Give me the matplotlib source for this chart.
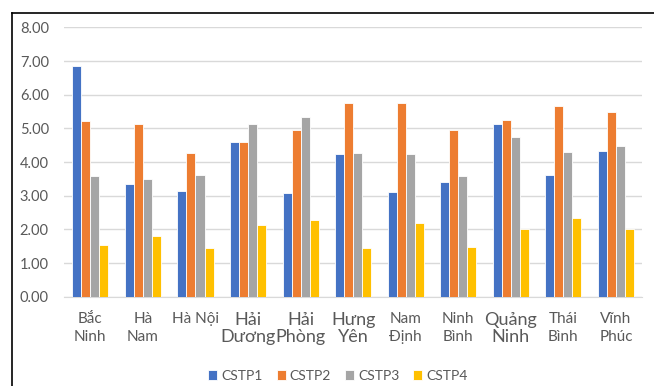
import matplotlib.pyplot as plt
import numpy as np
from matplotlib.lines import Line2D

plt.rcParams['font.family'] = ['Lato', 'DejaVu Sans']

provinces = ['Bắc\nNinh', 'Hà\nNam', 'Hà Nội', 'Hải\nDương', 'Hải\nPhòng', 'Hưng\nYên',
             'Nam\nĐịnh', 'Ninh\nBình', 'Quảng\nNinh', 'Thái\nBình', 'Vĩnh\nPhúc']
label_sizes = [11, 11, 11, 13, 13, 13, 11, 11, 13, 11, 11]

cstp1 = [6.85, 3.35, 3.14, 4.60, 3.07, 4.24, 3.11, 3.40, 5.12, 3.61, 4.33]
cstp2 = [5.21, 5.12, 4.27, 4.60, 4.96, 5.77, 5.77, 4.94, 5.26, 5.66, 5.50]
cstp3 = [3.58, 3.51, 3.63, 5.14, 5.34, 4.26, 4.24, 3.58, 4.74, 4.29, 4.48]
cstp4 = [1.55, 1.82, 1.45, 2.12, 2.28, 1.44, 2.19, 1.47, 2.00, 2.33, 2.00]

series = [('CSTP1', cstp1, '#4472C4'), ('CSTP2', cstp2, '#ED7D31'),
          ('CSTP3', cstp3, '#A5A5A5'), ('CSTP4', cstp4, '#FFC000')]

fig = plt.figure(figsize=(6.54, 3.86), dpi=100)
ax = fig.add_axes([0.098, 0.231, 0.884, 0.698])

x = np.arange(len(provinces))
w = 0.172
for i, (name, vals, col) in enumerate(series):
    ax.bar(x + (i - 1.5) * w, vals, w, color=col, edgecolor='white',
           linewidth=0.6, label=name, zorder=3)

ax.set_xlim(-0.5, len(provinces) - 0.5)
ax.set_ylim(0, 8)
ax.set_yticks(np.arange(0, 9, 1))
ax.set_yticklabels(['%.2f' % v for v in range(9)], fontsize=10.5, color='#595959')
ax.yaxis.grid(True, color='#D9D9D9', linewidth=1, zorder=0)
ax.tick_params(axis='y', length=0, pad=11)
ax.tick_params(axis='x', length=0, pad=11)
ax.set_xticks(x)
ax.set_xticklabels(provinces, color='#595959')
for lab, s in zip(ax.get_xticklabels(), label_sizes):
    lab.set_fontsize(s)
    lab.set_linespacing(1.35 if s < 12 else 1.1)
for s in ['top', 'right', 'left']:
    ax.spines[s].set_visible(False)
ax.spines['bottom'].set_color('#D9D9D9')

fig.legend(loc='center', bbox_to_anchor=(0.517, 0.026), ncol=4, frameon=False,
           fontsize=10, handlelength=0.65, handleheight=0.65, handletextpad=0.3,
           columnspacing=1.0, labelcolor='#595959')

# frame edges on the left and top
fig.add_artist(Line2D([12 / 654, 12 / 654], [0, 1 - 13 / 386], color='black', lw=1.2))
fig.add_artist(Line2D([12 / 654, 1], [1 - 13 / 386, 1 - 13 / 386], color='black', lw=1.2))

fig.savefig('out.png', dpi=100)
